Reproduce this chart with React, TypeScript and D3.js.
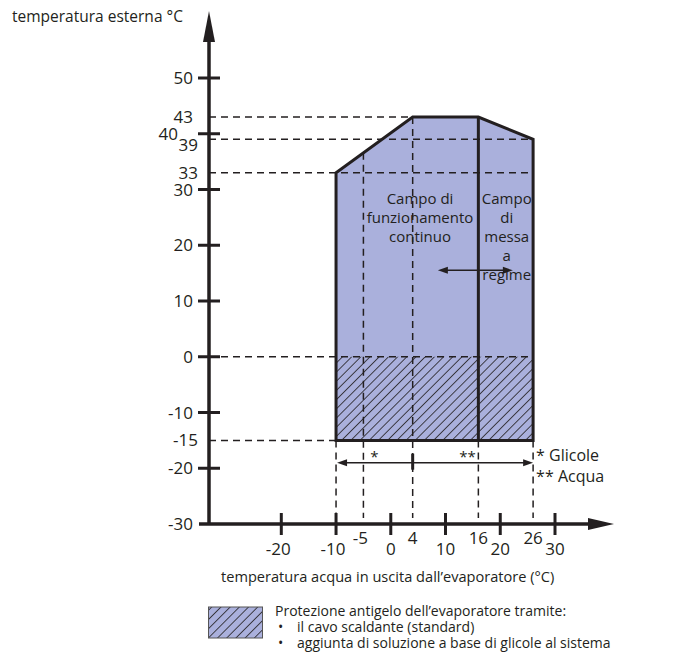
import * as d3 from 'd3';

// operating envelope: [water outlet °C, outdoor °C]
const envelope: [number, number][] = [
  [-10, -15], [-10, 33], [4, 43], [16, 43], [26, 39], [26, -15],
];
const dividerX = 16;
const hatchTop = 0;
const hatchBottom = -15;

const yTicks = [50, 40, 30, 20, 10, 0, -10, -20, -30];
const yExtra = [43, 39, 33, -15];
const xTicks = [-20, -10, 0, 10, 20, 30];
const xExtra = [-5, 4, 16, 26];

// dashed guides: [outdoor value, water value where it ends]
const hGuides: [number, number][] = [[43, 4], [39, 26], [33, 26], [0, 26], [-15, -10]];
// dashed verticals: [water value, outdoor value where it starts]
const vGuides: [number, number][] = [[-10, -15], [-5, 36.6], [4, 43], [16, -15], [26, -15]];

const leftLabel = ['Campo di', 'funzionamento', 'continuo'];
const rightLabel = ['Campo', 'di', 'messa', 'a', 'regime'];
const legendLines = [
  'Protezione antigelo dell\u2019evaporatore tramite:',
  'il cavo scaldante (standard)',
  'aggiunta di soluzione a base di glicole al sistema',
];

const INK = '#231f20';
const FILL = '#aab0dc';
const FONT = '"Open Sans", "DejaVu Sans", sans-serif';

export default function App() {
  const x = d3.scaleLinear().domain([-20, 30]).range([281.3, 555]);
  const y = d3.scaleLinear().domain([-30, 50]).range([524, 78]);
  const axisX = 209;
  const axisY = y(-30);
  const line = d3.line<[number, number]>().x(d => x(d[0])).y(d => y(d[1]));
  const dash = '7 5';

  const arrowY = y(-19);
  const innerY = y(15.5);

  // double-headed thin arrow
  const dbl = (x1: number, x2: number, yy: number, key: string) => (
    <g key={key}>
      <line x1={x1 + 6} x2={x2 - 6} y1={yy} y2={yy} stroke={INK} strokeWidth={1.5} />
      <path d={`M${x1},${yy} L${x1 + 10},${yy - 3.5} L${x1 + 10},${yy + 3.5} Z`} fill={INK} />
      <path d={`M${x2},${yy} L${x2 - 10},${yy - 3.5} L${x2 - 10},${yy + 3.5} Z`} fill={INK} />
    </g>
  );

  return (
    <svg width={676} height={660} style={{ position: 'absolute', left: 0, top: 0 }} fontFamily={FONT}>
      <defs>
        <pattern id="hatch" width={6.5} height={6.5} patternUnits="userSpaceOnUse" patternTransform="rotate(45)">
          <rect width={6.5} height={6.5} fill={FILL} />
          <line x1={0} y1={0} x2={0} y2={6.5} stroke={INK} strokeWidth={1.6} />
        </pattern>
      </defs>

      {/* envelope */}
      <path d={line(envelope) + 'Z'} fill={FILL} />
      <rect x={x(-10)} y={y(hatchTop)} width={x(26) - x(-10)} height={y(hatchBottom) - y(hatchTop)} fill="url(#hatch)" />

      {/* dashed guides */}
      {hGuides.map(([v, to], i) => (
        <line key={'h' + i} x1={axisX} x2={x(to)} y1={y(v)} y2={y(v)} stroke={INK} strokeWidth={1.5} strokeDasharray={dash} />
      ))}
      {vGuides.map(([v, from], i) => (
        <line key={'v' + i} x1={x(v)} x2={x(v)} y1={y(from)} y2={axisY - 6} stroke={INK} strokeWidth={1.5} strokeDasharray={dash} />
      ))}

      <path d={line(envelope) + 'Z'} fill="none" stroke={INK} strokeWidth={3} strokeLinejoin="miter" />
      <line x1={x(dividerX)} x2={x(dividerX)} y1={y(43)} y2={y(-15)} stroke={INK} strokeWidth={3} />

      {/* region labels */}
      {leftLabel.map((t, i) => (
        <text key={t} x={420} y={y(33) + 31 + i * 19} textAnchor="middle" fontSize={15} fill={INK}>{t}</text>
      ))}
      {rightLabel.map((t, i) => (
        <text key={t} x={(x(16) + x(26)) / 2 + 1} y={y(33) + 31 + i * 19} textAnchor="middle" fontSize={15} fill={INK}>{t}</text>
      ))}
      {dbl(x(8.6), x(22.3), innerY, 'inner')}

      {/* glycol / water range arrow */}
      {dbl(x(-10) + 1, x(26), arrowY, 'range')}
      <line x1={x(4)} x2={x(4)} y1={arrowY - 9} y2={arrowY + 7} stroke={INK} strokeWidth={3} />
      <text x={x(-3)} y={arrowY - 1} textAnchor="middle" fontSize={15} fill={INK}>*</text>
      <text x={x(14)} y={arrowY - 1} textAnchor="middle" fontSize={15} fill={INK}>**</text>
      <text x={x(26) + 3} y={arrowY - 2} fontSize={16} fill={INK}>* Glicole</text>
      <text x={x(26) + 3} y={arrowY + 19} fontSize={16} fill={INK}>** Acqua</text>

      {/* axes */}
      <line x1={axisX} x2={axisX} y1={axisY} y2={40} stroke={INK} strokeWidth={3.5} />
      <path d={`M${axisX},11 L${axisX - 6},42 L${axisX + 6},42 Z`} fill={INK} />
      <line x1={axisX - 10} x2={590} y1={axisY} y2={axisY} stroke={INK} strokeWidth={3.5} />
      <path d={`M614,${axisY} L588,${axisY - 6} L588,${axisY + 6} Z`} fill={INK} />

      {yTicks.filter(v => v > -30).map(v => (
        <line key={'yt' + v} x1={axisX - 11} x2={axisX + 11} y1={y(v)} y2={y(v)} stroke={INK} strokeWidth={3} />
      ))}
      {yTicks.map(v => (
        <text key={'yl' + v} x={v === 40 ? 178 : 193} y={y(v) + 6} textAnchor="end" fontSize={17} fill={INK}>{v}</text>
      ))}
      {yExtra.map(v => (
        <text key={'ye' + v} x={v === 43 ? 193 : 198} y={y(v) + 6 + (v === 39 ? 6 : 0)} textAnchor="end" fontSize={17} fill={INK}>{v}</text>
      ))}

      {xTicks.map(v => (
        <line key={'xt' + v} x1={x(v)} x2={x(v)} y1={axisY - 11} y2={axisY + 11} stroke={INK} strokeWidth={3} />
      ))}
      {xTicks.map(v => (
        <text key={'xl' + v} x={x(v) - (v < 0 ? 3 : 0)} y={axisY + 31} textAnchor="middle" fontSize={17} fill={INK}>{v}</text>
      ))}
      {xExtra.map(v => (
        <text key={'xe' + v} x={x(v) - (v < 0 ? 3 : 0)} y={axisY + 20} textAnchor="middle" fontSize={17} fill={INK}>{v}</text>
      ))}

      {/* axis titles */}
      <text x={12} y={22} fontSize={15.5} fill={INK}>temperatura esterna °C</text>
      <text x={221} y={582} fontSize={14.6} fill={INK}>temperatura acqua in uscita dall’evaporatore (°C)</text>

      {/* legend */}
      <rect x={208.5} y={607} width={54} height={31} fill="url(#hatch)" stroke="#555" strokeWidth={1} />
      <text x={275} y={616} fontSize={14} fill={INK}>{legendLines[0]}</text>
      {legendLines.slice(1).map((t, i) => (
        <g key={t}>
          <text x={278} y={632 + i * 16} fontSize={14} fill={INK}>•</text>
          <text x={297} y={632 + i * 16} fontSize={14} fill={INK}>{t}</text>
        </g>
      ))}
    </svg>
  );
}
